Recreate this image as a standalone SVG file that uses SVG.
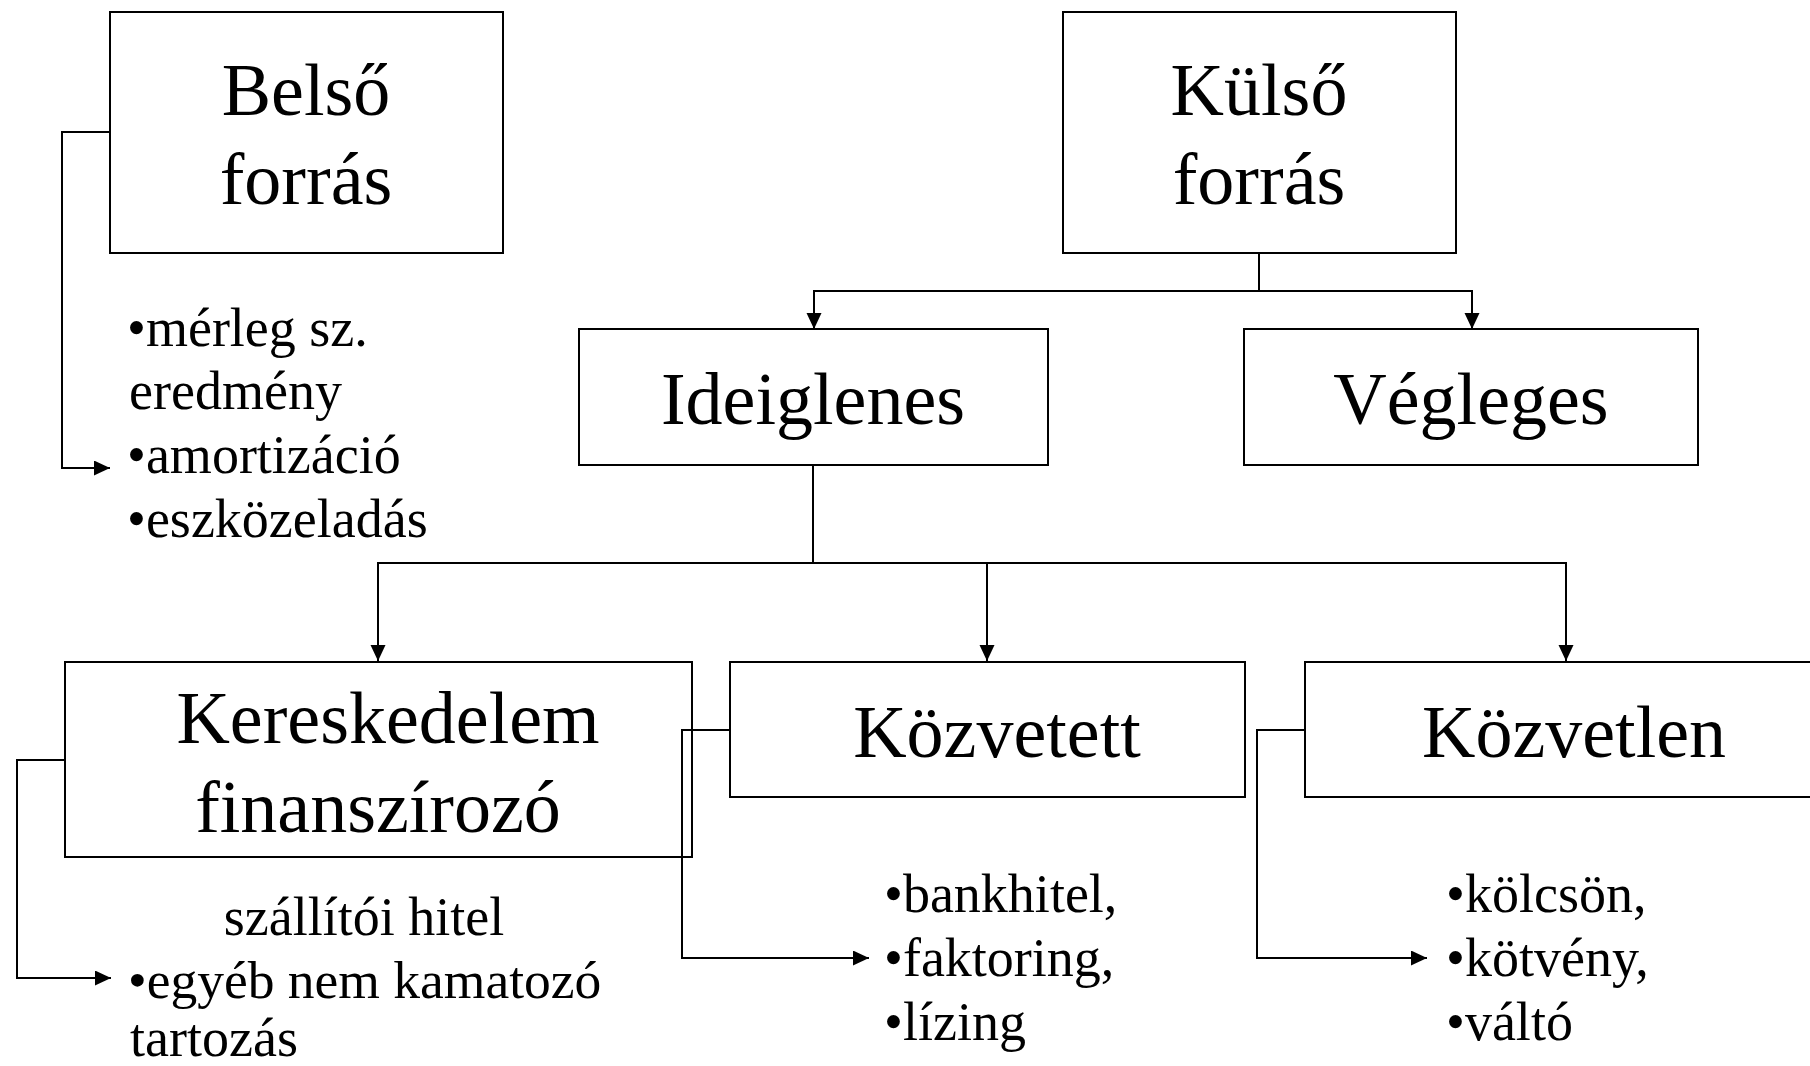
<svg xmlns="http://www.w3.org/2000/svg" width="1810" height="1066" viewBox="0 0 1810 1066">
  <style>
    .box { fill: #ffffff; stroke: #000000; stroke-width: 2; }
    .title { font-family: "Liberation Serif", "Times New Roman", serif; font-size: 74px; fill: #000000; text-anchor: middle; }
    .item { font-family: "Liberation Serif", "Times New Roman", serif; font-size: 54px; fill: #000000; }
    .link { fill: none; stroke: #000000; stroke-width: 2; }
  </style>
  <defs>
    <marker id="arrow" markerUnits="userSpaceOnUse" markerWidth="17" markerHeight="16" refX="16" refY="7.5" orient="auto">
      <path d="M0,0 L16,7.5 L0,15 Z" fill="#000000"/>
    </marker>
  </defs>
  <rect width="1810" height="1066" fill="#ffffff"/>

  <!-- internal sources -->
  <g id="belso">
    <rect class="box" x="110" y="12" width="393" height="241"/>
    <text class="title" x="306" y="115">Belső</text>
    <text class="title" x="306" y="204">forrás</text>
  </g>
  <g id="belso-items" class="item">
    <text x="127" y="346">•mérleg sz.</text>
    <text x="129" y="409">eredmény</text>
    <text x="127" y="473">•amortizáció</text>
    <text x="127" y="537">•eszközeladás</text>
  </g>

  <!-- external sources -->
  <g id="kulso">
    <rect class="box" x="1063" y="12" width="393" height="241"/>
    <text class="title" x="1259" y="115">Külső</text>
    <text class="title" x="1259" y="204">forrás</text>
  </g>

  <g id="ideiglenes">
    <rect class="box" x="579" y="329" width="469" height="136"/>
    <text class="title" x="813" y="424">Ideiglenes</text>
  </g>

  <g id="vegleges">
    <rect class="box" x="1244" y="329" width="454" height="136"/>
    <text class="title" x="1471" y="424">Végleges</text>
  </g>

  <g id="kereskedelem">
    <rect class="box" x="65" y="662" width="627" height="195"/>
    <text class="title" x="388" y="743">Kereskedelem</text>
    <text class="title" x="378" y="832">finanszírozó</text>
  </g>
  <g id="kereskedelem-items" class="item">
    <text x="364" y="935" text-anchor="middle">szállítói hitel</text>
    <text x="128" y="998" font-size="53.5">•egyéb nem kamatozó</text>
    <text x="130" y="1056">tartozás</text>
  </g>

  <g id="kozvetett">
    <rect class="box" x="730" y="662" width="515" height="135"/>
    <text class="title" x="997" y="757">Közvetett</text>
  </g>
  <g id="kozvetett-items" class="item">
    <text x="884" y="912">•bankhitel,</text>
    <text x="884" y="976">•faktoring,</text>
    <text x="884" y="1040">•lízing</text>
  </g>

  <g id="kozvetlen">
    <rect class="box" x="1305" y="662" width="540" height="135"/>
    <text class="title" x="1574" y="757">Közvetlen</text>
  </g>
  <g id="kozvetlen-items" class="item">
    <text x="1446" y="912">•kölcsön,</text>
    <text x="1446" y="976">•kötvény,</text>
    <text x="1446" y="1040">•váltó</text>
  </g>

  <!-- connectors, drawn over the boxes they cross -->
  <g id="connectors">
    <path class="link" d="M110,132 H62 V468 H110" marker-end="url(#arrow)"/>
    <path class="link" d="M1259,253 V291 H814 V329" marker-end="url(#arrow)"/>
    <path class="link" d="M1259,291 H1472 V329" marker-end="url(#arrow)"/>
    <path class="link" d="M813,465 V563 H378 V661" marker-end="url(#arrow)"/>
    <path class="link" d="M813,563 H987 V661" marker-end="url(#arrow)"/>
    <path class="link" d="M987,563 H1566 V661" marker-end="url(#arrow)"/>
    <path class="link" d="M65,760 H17 V978 H111" marker-end="url(#arrow)"/>
    <path class="link" d="M730,730 H682 V958 H869" marker-end="url(#arrow)"/>
    <path class="link" d="M1305,730 H1257 V958 H1427" marker-end="url(#arrow)"/>
  </g>
</svg>
